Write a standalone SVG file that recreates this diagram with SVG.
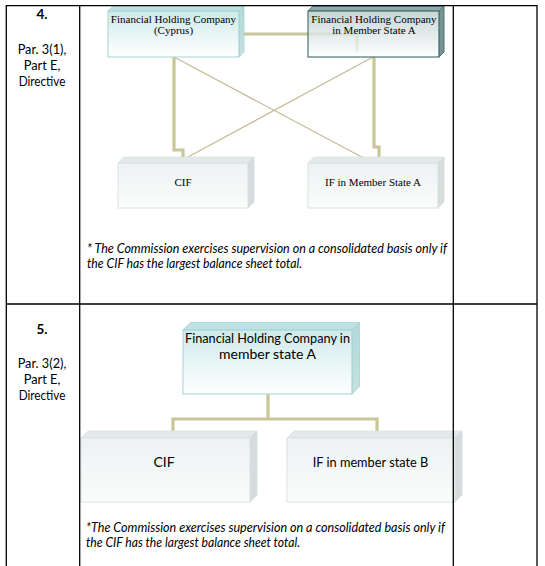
<svg xmlns="http://www.w3.org/2000/svg" width="545" height="566" viewBox="0 0 545 566">
<defs>
<linearGradient id="gTeal" x1="0" y1="0" x2="0" y2="1">
<stop offset="0" stop-color="#c4e4e4" stop-opacity="0.8"/>
<stop offset="1" stop-color="#ffffff" stop-opacity="0.8"/>
</linearGradient>
<linearGradient id="gDark" x1="0" y1="0" x2="0" y2="1">
<stop offset="0" stop-color="#b9cccc" stop-opacity="0.8"/>
<stop offset="1" stop-color="#ffffff" stop-opacity="0.8"/>
</linearGradient>
<linearGradient id="gGray" x1="0" y1="0" x2="0" y2="1">
<stop offset="0" stop-color="#e8eeee" stop-opacity="0.8"/>
<stop offset="1" stop-color="#fbfcfc" stop-opacity="0.8"/>
</linearGradient>
<linearGradient id="gTealSide" x1="0" y1="0" x2="0" y2="1">
<stop offset="0" stop-color="#b2d9d9"/>
<stop offset="1" stop-color="#c6e0e0"/>
</linearGradient>
</defs>
<style>
.thick{fill:none;stroke:#cac697;stroke-width:3.2}
.thin{fill:none;stroke:#c6bb96;stroke-width:1.3}
.tl{stroke:#000;stroke-width:1.3;fill:none}
.teal .front{fill:url(#gTeal);stroke:#a3d3d3;stroke-width:1}
.teal .top{fill:#bfe1e1;stroke:#a3d3d3;stroke-width:0.8}
.teal .side{fill:url(#gTealSide);stroke:#a3d3d3;stroke-width:0.8}
.dark .front{fill:url(#gDark);stroke:#4d7373;stroke-width:1.2}
.dark .top{fill:#8eabab;stroke:#4d7373;stroke-width:1}
.dark .side{fill:#779595;stroke:#4d7373;stroke-width:1}
.gray .front{fill:url(#gGray);stroke:#d9e2e2;stroke-width:1}
.gray .top{fill:#e3e9e9;stroke:#d9e2e2;stroke-width:0.8}
.gray .side{fill:#d6dcdc;stroke:#d2dada;stroke-width:0.8}
.serif{font-family:"Liberation Serif","Times New Roman",serif;font-size:11px;fill:#000;text-anchor:middle}
.sans{font-family:Lato,"Liberation Sans",sans-serif;fill:#000}
.lbl{font-size:13.5px;text-anchor:middle}
.box5{font-size:14px;text-anchor:middle}
.note{font-size:12.5px;font-style:italic}
</style>
<rect x="0" y="0" width="545" height="566" fill="#fff"/>

<g id="connectors">
<path class="thick" d="M239,34 H357 V52"/>
<path class="thick" d="M174,57 V150 H183 V163"/>
<path class="thick" d="M374,57 V147 H379 V163"/>
<path class="thin" d="M174,57 L373,163"/>
<path class="thin" d="M373,57 L188,157"/>
<path class="thick" d="M268,394 V419"/>
<path class="thick" d="M173,432 V419 H377 V432"/>
</g>

<g id="fhc-cyprus" class="teal">
<polygon class="top" points="108,11 113,6 244,6 239,11"/>
<polygon class="side" points="239,11 244,6 244,52 239,57"/>
<rect class="front" x="108" y="11" width="131" height="46"/>
<text class="serif" x="173.5" y="23">Financial Holding Company</text>
<text class="serif" x="173.5" y="34">(Cyprus)</text>
</g>

<g id="fhc-msa-4" class="dark">
<polygon class="top" points="308,11 313,6 444,6 439,11"/>
<polygon class="side" points="439,11 444,6 444,52 439,57"/>
<rect class="front" x="308" y="11" width="131" height="46"/>
<text class="serif" x="374" y="23">Financial Holding Company</text>
<text class="serif" x="374" y="34">in Member State A</text>
</g>

<g id="cif-4" class="gray">
<polygon class="top" points="118,163 124,157 254,157 248,163"/>
<polygon class="side" points="248,163 254,157 254,202 248,208"/>
<rect class="front" x="118" y="163" width="130" height="45"/>
<text class="serif" x="183" y="186">CIF</text>
</g>

<g id="if-msa-4" class="gray">
<polygon class="top" points="308,163 314,157 444,157 438,163"/>
<polygon class="side" points="438,163 444,157 444,202 438,208"/>
<rect class="front" x="308" y="163" width="130" height="45"/>
<text class="serif" x="373" y="186">IF in Member State A</text>
</g>

<g id="note-4" class="sans">
<text class="note" x="87" y="253" textLength="360" lengthAdjust="spacingAndGlyphs">* The Commission exercises supervision on a consolidated basis only if</text>
<text class="note" x="87" y="267.5" textLength="215" lengthAdjust="spacingAndGlyphs">the CIF has the largest balance sheet total.</text>
</g>

<g id="fhc-msa-5" class="teal">
<polygon class="top" points="183,330 190.5,322.5 359.5,322.5 352,330"/>
<polygon class="side" points="352,330 359.5,322.5 359.5,386.5 352,394"/>
<rect class="front" x="183" y="330" width="169" height="64"/>
<text class="sans box5" x="267.5" y="343" textLength="165" lengthAdjust="spacingAndGlyphs">Financial Holding Company in</text>
<text class="sans box5" x="267.5" y="359">member state A</text>
</g>

<g id="cif-5" class="gray">
<polygon class="top" points="81,438 88,431 257,431 250,438"/>
<polygon class="side" points="250,438 257,431 257,495 250,502"/>
<rect class="front" x="81" y="438" width="169" height="64"/>
<text class="sans box5" x="164" y="467">CIF</text>
</g>

<g id="if-msb-5" class="gray">
<polygon class="top" points="287,438 294,431 462,431 455,438"/>
<polygon class="side" points="455,438 462,431 462,495 455,502"/>
<rect class="front" x="287" y="438" width="168" height="64"/>
<text class="sans box5" x="370.5" y="467" textLength="115.6" lengthAdjust="spacingAndGlyphs">IF in member state B</text>
</g>

<g id="note-5" class="sans">
<text class="note" x="86" y="532" textLength="359" lengthAdjust="spacingAndGlyphs">*The Commission exercises supervision on a consolidated basis only if</text>
<text class="note" x="86" y="547" textLength="214" lengthAdjust="spacingAndGlyphs">the CIF has the largest balance sheet total.</text>
</g>

<g id="table">
<path class="tl" d="M6.3,566 V5.7 H537 V566"/>
<path class="tl" d="M79.7,5.7 V566"/>
<path class="tl" d="M453.3,5.7 V566"/>
<path class="tl" d="M6.3,304 H537"/>
<g class="sans lbl">
<text x="42" y="19" font-weight="bold">4.</text>
<text x="42" y="54" textLength="48.7" lengthAdjust="spacingAndGlyphs">Par. 3(1),</text>
<text x="42" y="70" textLength="36.7" lengthAdjust="spacingAndGlyphs">Part E,</text>
<text x="42" y="86" textLength="46.7" lengthAdjust="spacingAndGlyphs">Directive</text>
<text x="42" y="334" font-weight="bold">5.</text>
<text x="42" y="368" textLength="48.7" lengthAdjust="spacingAndGlyphs">Par. 3(2),</text>
<text x="42" y="384" textLength="36.7" lengthAdjust="spacingAndGlyphs">Part E,</text>
<text x="42" y="400" textLength="46.7" lengthAdjust="spacingAndGlyphs">Directive</text>
</g>
</g>
</svg>
